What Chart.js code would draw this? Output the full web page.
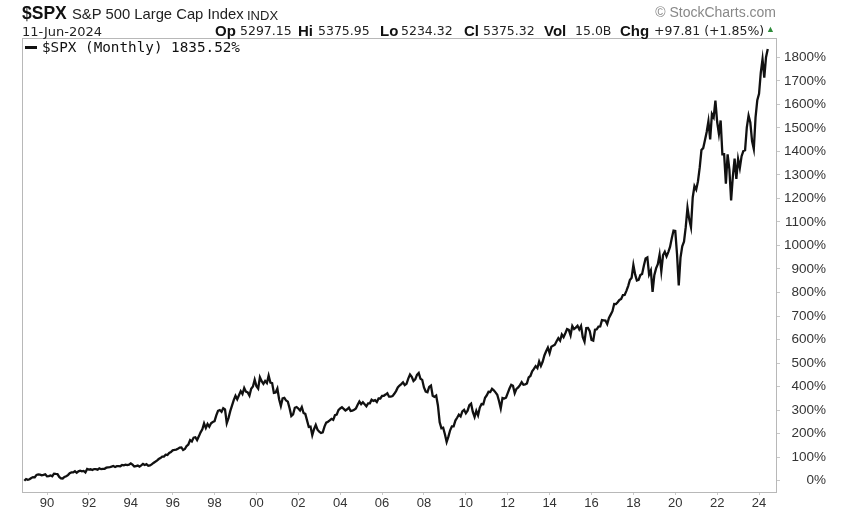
<!DOCTYPE html>
<html>
<head>
<meta charset="utf-8">
<script src="https://cdn.jsdelivr.net/npm/chart.js@4"></script>
<style>
  html, body { margin: 0; padding: 0; background: #fff; }
  #wrap { position: relative; width: 848px; height: 513px; font-family: Arial, "Liberation Sans", sans-serif; }
  #chart { position: absolute; left: 0; top: 0; }
  .txt { position: absolute; white-space: nowrap; color: #111; }
  .lbl { position: absolute; top: 22px; font-size: 15px; font-weight: bold; color: #111; }
  .val { position: absolute; top: 23px; font-size: 12.5px; font-family: "DejaVu Sans", sans-serif; color: #222; white-space: nowrap; }
</style>
</head>
<body>
<div id="wrap">
  <canvas id="chart" width="848" height="513"></canvas>
  <div class="txt" style="left:22px; top:3px; font-size:17.5px; font-weight:bold;">$SPX</div>
  <div class="txt" style="left:72px; top:6px; font-size:14.8px; color:#222;">S&amp;P 500 Large Cap Index</div>
  <div class="txt" style="left:247px; top:8px; font-size:13px; color:#222;">INDX</div>
  <div class="txt" style="left:22px; top:24px; font-size:13px; font-family:'DejaVu Sans', sans-serif; color:#222;">11-Jun-2024</div>
  <span class="lbl" style="left:215px;">Op</span><span class="val" style="left:240px;">5297.15</span>
  <span class="lbl" style="left:298px;">Hi</span><span class="val" style="left:318px;">5375.95</span>
  <span class="lbl" style="left:380px;">Lo</span><span class="val" style="left:401px;">5234.32</span>
  <span class="lbl" style="left:464px;">Cl</span><span class="val" style="left:483px;">5375.32</span>
  <span class="lbl" style="left:544px;">Vol</span><span class="val" style="left:575px;">15.0B</span>
  <span class="lbl" style="left:620px;">Chg</span><span class="val" style="left:654px;">+97.81 (+1.85%)</span>
  <div class="txt" style="left:766px; top:24px; font-size:9px; color:#2e8b3a;">▲</div>
  <div class="txt" style="right:72px; top:4px; font-size:14px; color:#888;">© StockCharts.com</div>
  <div class="txt" style="left:25px; top:46px; width:12px; height:3px; background:#111;"></div>
  <div class="txt" style="left:42px; top:39px; font-size:14.3px; font-family:'DejaVu Sans Mono', monospace; color:#111;">$SPX (Monthly) 1835.52%</div>
</div>
<script>
// S&P 500 month-end closes, Dec 1988 .. Jun 2024 (last = 11-Jun-2024)
const startYear = 1988;
const startMonth = 12;
const baseClose = 277.72;
const monthlyCloses = [
  277.72,
  297.47, 288.86, 294.87, 309.64, 320.52, 317.98, 346.08, 351.45, 349.15, 340.36, 345.99, 353.40,
  329.08, 331.89, 339.94, 330.80, 361.23, 358.02, 356.15, 322.56, 306.05, 304.00, 322.22, 330.22,
  343.93, 367.07, 375.22, 375.34, 389.83, 371.16, 387.81, 395.43, 387.86, 392.46, 375.22, 417.09,
  408.79, 412.70, 403.69, 414.95, 415.35, 408.14, 424.21, 414.03, 417.80, 418.68, 431.35, 435.71,
  438.78, 443.38, 451.67, 440.19, 450.19, 450.53, 448.13, 463.56, 458.93, 467.83, 461.79, 466.45,
  481.61, 467.14, 445.77, 450.91, 456.50, 444.27, 458.26, 475.49, 462.69, 472.35, 453.69, 459.27,
  470.42, 487.39, 500.71, 514.71, 533.40, 544.75, 562.06, 561.88, 584.41, 581.50, 605.37, 615.93,
  636.02, 640.43, 645.50, 654.17, 669.12, 670.63, 639.95, 651.99, 687.31, 705.27, 757.02, 740.74,
  786.16, 790.82, 757.12, 801.34, 848.28, 885.14, 954.31, 899.47, 947.28, 914.62, 955.40, 970.43,
  980.28, 1049.34, 1101.75, 1111.75, 1090.82, 1133.84, 1120.67, 957.28, 1017.01, 1098.67, 1163.63, 1229.23,
  1279.64, 1238.33, 1286.37, 1335.18, 1301.84, 1372.71, 1328.72, 1320.41, 1282.71, 1362.93, 1388.91, 1469.25,
  1394.46, 1366.42, 1498.58, 1452.43, 1420.60, 1454.60, 1430.83, 1517.68, 1436.51, 1429.40, 1314.95, 1320.28,
  1366.01, 1239.94, 1160.33, 1249.46, 1255.82, 1224.42, 1211.23, 1133.58, 1040.94, 1059.78, 1139.45, 1148.08,
  1130.20, 1106.73, 1147.39, 1076.92, 1067.14, 989.82, 911.62, 916.07, 815.28, 885.76, 936.31, 879.82,
  855.70, 841.15, 848.18, 916.92, 963.59, 974.50, 990.31, 1008.01, 995.97, 1050.71, 1058.20, 1111.92,
  1131.13, 1144.94, 1126.21, 1107.30, 1120.68, 1140.84, 1101.72, 1104.24, 1114.58, 1130.20, 1173.82, 1211.92,
  1181.27, 1203.60, 1180.59, 1156.85, 1191.50, 1191.33, 1234.18, 1220.33, 1228.81, 1207.01, 1249.48, 1248.29,
  1280.08, 1280.66, 1294.83, 1310.61, 1270.09, 1270.20, 1276.66, 1303.82, 1335.85, 1377.94, 1400.63, 1418.30,
  1438.24, 1406.82, 1420.86, 1482.37, 1530.62, 1503.35, 1455.27, 1473.99, 1526.75, 1549.38, 1481.14, 1468.36,
  1378.55, 1330.63, 1322.70, 1385.59, 1400.38, 1280.00, 1267.38, 1282.83, 1166.36, 968.75, 896.24, 903.25,
  825.88, 735.09, 797.87, 872.81, 919.14, 919.32, 987.48, 1020.62, 1057.08, 1036.19, 1095.63, 1115.10,
  1073.87, 1104.49, 1169.43, 1186.69, 1089.41, 1030.71, 1101.60, 1049.33, 1141.20, 1183.26, 1180.55, 1257.64,
  1286.12, 1327.22, 1325.83, 1363.61, 1345.20, 1320.64, 1292.28, 1218.89, 1131.42, 1253.30, 1246.96, 1257.60,
  1312.41, 1365.68, 1408.47, 1397.91, 1310.33, 1362.16, 1379.32, 1406.58, 1440.67, 1412.16, 1416.18, 1426.19,
  1498.11, 1514.68, 1569.19, 1597.57, 1630.74, 1606.28, 1685.73, 1632.97, 1681.55, 1756.54, 1805.81, 1848.36,
  1782.59, 1859.45, 1872.34, 1883.95, 1923.57, 1960.23, 1930.67, 2003.37, 1972.29, 2018.05, 2067.56, 2058.90,
  1994.99, 2104.50, 2067.89, 2085.51, 2107.39, 2063.11, 2103.84, 1972.18, 1920.03, 2079.36, 2080.41, 2043.94,
  1940.24, 1932.23, 2059.74, 2065.30, 2096.95, 2098.86, 2173.60, 2170.95, 2168.27, 2126.15, 2198.81, 2238.83,
  2278.87, 2363.64, 2362.72, 2384.20, 2411.80, 2423.41, 2470.30, 2471.65, 2519.36, 2575.26, 2647.58, 2673.61,
  2823.81, 2713.83, 2640.87, 2648.05, 2705.27, 2718.37, 2816.29, 2901.52, 2913.98, 2711.74, 2760.17, 2506.85,
  2704.10, 2784.49, 2834.40, 2945.83, 2752.06, 2941.76, 2980.38, 2926.46, 2976.74, 3037.56, 3140.98, 3230.78,
  3225.52, 2954.22, 2584.59, 2912.43, 3044.31, 3100.29, 3271.12, 3500.31, 3363.00, 3269.96, 3621.63, 3756.07,
  3714.24, 3811.15, 3972.89, 4181.17, 4204.11, 4297.50, 4395.26, 4522.68, 4307.54, 4605.38, 4567.00, 4766.18,
  4515.55, 4373.94, 4530.41, 4131.93, 4132.15, 3785.38, 4130.29, 3955.00, 3585.62, 3871.98, 4080.11, 3839.50,
  4076.60, 3970.15, 4109.31, 4169.48, 4179.83, 4450.38, 4588.96, 4507.66, 4288.05, 4193.80, 4567.80, 4769.83,
  4845.65, 5096.27, 5254.35, 5035.69, 5277.51, 5375.32
];
const xTickYears = [1990, 1992, 1994, 1996, 1998, 2000, 2002, 2004, 2006, 2008, 2010, 2012, 2014, 2016, 2018, 2020, 2022, 2024];
const yTickPercents = [0, 100, 200, 300, 400, 500, 600, 700, 800, 900, 1000, 1100, 1200, 1300, 1400, 1500, 1600, 1700, 1800];

const points = monthlyCloses.map((c, i) => {
  const m = startMonth - 1 + i;
  return { x: startYear + Math.floor(m / 12) + (m % 12) / 12, y: (c / baseClose - 1) * 100 };
});

const frameBox = {
  id: 'frameBox',
  afterDraw(chart) {
    const { ctx, chartArea: a } = chart;
    ctx.save();
    ctx.strokeStyle = '#b8b8b8';
    ctx.lineWidth = 1;
    ctx.strokeRect(a.left + 0.5, a.top + 0.5, a.right - a.left, a.bottom - a.top);
    ctx.restore();
  }
};

new Chart(document.getElementById('chart').getContext('2d'), {
  type: 'line',
  data: {
    datasets: [{
      data: points,
      borderColor: '#111',
      borderWidth: 2.3,
      pointRadius: 0,
      tension: 0,
      fill: false
    }]
  },
  options: {
    responsive: false,
    animation: false,
    layout: { padding: { left: 22, top: 38, right: 22, bottom: 0 } },
    plugins: { legend: { display: false }, tooltip: { enabled: false } },
    scales: {
      x: {
        type: 'linear',
        min: 1988.806,
        max: 2024.81,
        afterBuildTicks: s => { s.ticks = xTickYears.map(v => ({ value: v })); },
        afterFit: s => { s.height = 21; },
        grid: { display: true, drawOnChartArea: false, drawTicks: true, tickLength: 3, color: '#c8c8c8' },
        border: { display: false },
        ticks: {
          color: '#333',
          font: { size: 13, family: 'Arial' },
          padding: 1,
          maxRotation: 0,
          autoSkip: false,
          callback: v => String(v % 100).padStart(2, '0')
        }
      },
      y: {
        position: 'right',
        min: -48,
        max: 1882,
        afterBuildTicks: s => { s.ticks = yTickPercents.map(v => ({ value: v })); },
        afterFit: s => { s.width = 50; },
        grid: { display: true, drawOnChartArea: false, drawTicks: true, tickLength: 4, color: '#c8c8c8' },
        border: { display: false },
        ticks: {
          color: '#333',
          font: { size: 13.5, family: 'Arial' },
          crossAlign: 'far',
          padding: 3,
          callback: v => v + '%'
        }
      }
    }
  },
  plugins: [frameBox]
});
</script>
</body>
</html>
